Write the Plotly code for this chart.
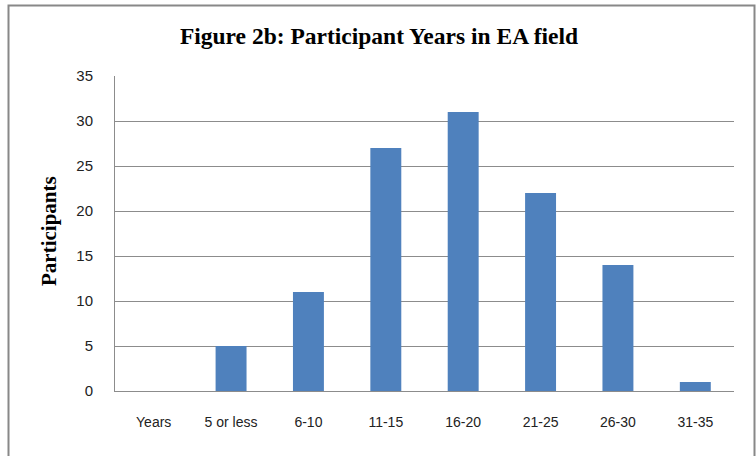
import plotly.graph_objects as go

categories = ["Years", "5 or less", "6-10", "11-15", "16-20", "21-25", "26-30", "31-35"]
participants = [0, 5, 11, 27, 31, 22, 14, 1]
y_ticks = [0, 5, 10, 15, 20, 25, 30, 35]

W, H = 756, 456
L, R, T, B = 115, 22, 76, 65
pw, ph = W - L - R, H - T - B

def px_to_paper_x(px):
    return (px - L) / pw

def px_to_paper_y(py):
    return (H - B - py) / ph

fig = go.Figure(
    go.Bar(
        x=categories,
        y=participants,
        marker=dict(color="#4F81BD", line=dict(width=0)),
        width=0.4,
    )
)

fig.update_layout(
    width=W,
    height=H,
    margin=dict(l=L, r=R, t=T, b=B),
    paper_bgcolor="white",
    plot_bgcolor="white",
    showlegend=False,
    title=dict(
        text="<b>Figure 2b: Participant Years in EA field</b>",
        font=dict(family="Liberation Serif", size=23.5, color="black"),
        x=379 / W,
        xanchor="center",
        xref="container",
        y=1 - 36 / H,
        yanchor="middle",
        yref="container",
    ),
    xaxis=dict(
        showgrid=False,
        showline=True,
        linecolor="#8c8c8c",
        linewidth=1,
        ticks="",
        ticklabelstandoff=18,
        tickfont=dict(family="Liberation Sans", size=14, color="#222222"),
    ),
    yaxis=dict(
        range=[0, 35],
        tickvals=y_ticks,
        showgrid=True,
        gridcolor="#8c8c8c",
        gridwidth=1,
        showline=True,
        linecolor="#8c8c8c",
        linewidth=1,
        ticks="",
        ticklabelstandoff=18,
        zeroline=False,
        tickfont=dict(family="Liberation Sans", size=15, color="#222222"),
    ),
    annotations=[
        dict(
            text="<b>Participants</b>",
            textangle=-90,
            x=px_to_paper_x(49),
            y=px_to_paper_y(231),
            xref="paper",
            yref="paper",
            xanchor="center",
            yanchor="middle",
            showarrow=False,
            font=dict(family="Liberation Serif", size=21, color="black"),
        )
    ],
    shapes=[
        dict(
            type="rect",
            xref="paper",
            yref="paper",
            x0=px_to_paper_x(8.5),
            x1=px_to_paper_x(754.5),
            y0=px_to_paper_y(490),
            y1=px_to_paper_y(5.5),
            line=dict(color="#888888", width=2),
            fillcolor="rgba(0,0,0,0)",
            layer="below",
        )
    ],
)

fig.write_html("out.html")
